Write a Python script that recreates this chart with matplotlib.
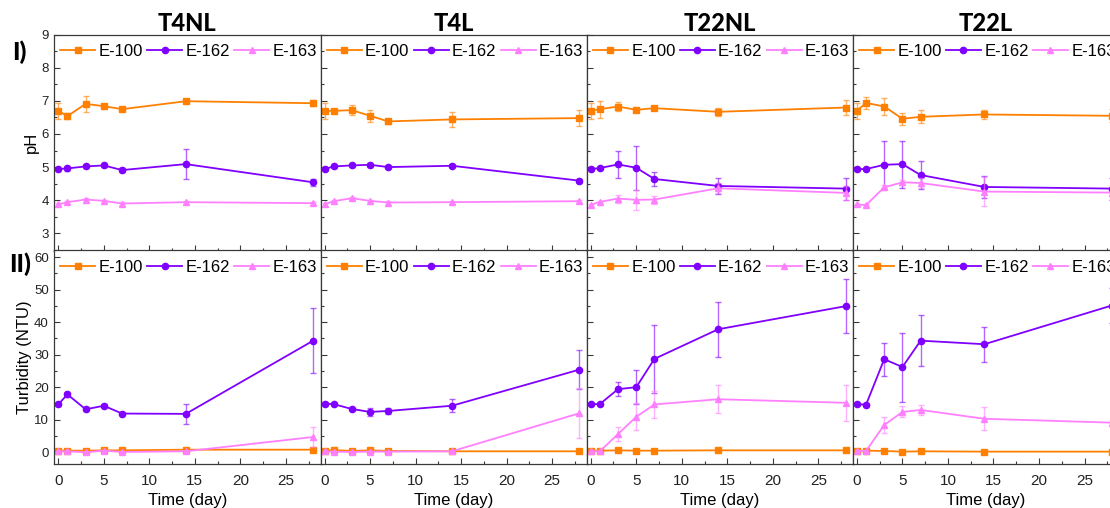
import matplotlib
matplotlib.use("Agg")
import matplotlib.pyplot as plt
from matplotlib.colors import to_rgba
from matplotlib.ticker import MultipleLocator

plt.rcParams['font.family'] = ['Liberation Sans', 'DejaVu Sans']

# Sampling days
days = [0, 1, 3, 5, 7, 14, 28]
conditions = ["T4NL", "T4L", "T22NL", "T22L"]
dyes = ["E-100", "E-162", "E-163"]

# ---- pH (mean, sd) per condition and dye ----
ph_t4nl_e100 = [6.70, 6.54, 6.91, 6.84, 6.75, 6.99, 6.93]
ph_t4nl_e100_sd = [0.24, 0.08, 0.24, 0.04, 0.04, 0.06, 0.09]
ph_t4nl_e162 = [4.94, 4.96, 5.02, 5.05, 4.91, 5.09, 4.54]
ph_t4nl_e162_sd = [0.04, 0.07, 0.05, 0.05, 0.05, 0.46, 0.11]
ph_t4nl_e163 = [3.87, 3.94, 4.02, 3.98, 3.90, 3.94, 3.91]
ph_t4nl_e163_sd = [0.04, 0.04, 0.05, 0.04, 0.04, 0.04, 0.04]

ph_t4l_e100 = [6.70, 6.70, 6.72, 6.55, 6.38, 6.44, 6.48]
ph_t4l_e100_sd = [0.25, 0.06, 0.15, 0.18, 0.08, 0.23, 0.25]
ph_t4l_e162 = [4.94, 5.02, 5.05, 5.07, 5.00, 5.04, 4.59]
ph_t4l_e162_sd = [0.04, 0.04, 0.05, 0.06, 0.04, 0.05, 0.06]
ph_t4l_e163 = [3.87, 3.97, 4.06, 3.98, 3.93, 3.94, 3.97]
ph_t4l_e163_sd = [0.04, 0.04, 0.05, 0.04, 0.04, 0.04, 0.04]

ph_t22nl_e100 = [6.70, 6.75, 6.83, 6.73, 6.78, 6.67, 6.80]
ph_t22nl_e100_sd = [0.25, 0.26, 0.15, 0.05, 0.05, 0.12, 0.22]
ph_t22nl_e162 = [4.94, 4.97, 5.08, 4.98, 4.64, 4.43, 4.35]
ph_t22nl_e162_sd = [0.04, 0.04, 0.40, 0.66, 0.20, 0.25, 0.33]
ph_t22nl_e163 = [3.86, 3.95, 4.05, 4.01, 4.02, 4.36, 4.22]
ph_t22nl_e163_sd = [0.03, 0.04, 0.12, 0.31, 0.12, 0.15, 0.21]

ph_t22l_e100 = [6.70, 6.94, 6.83, 6.46, 6.52, 6.59, 6.55]
ph_t22l_e100_sd = [0.25, 0.17, 0.26, 0.18, 0.20, 0.15, 0.20]
ph_t22l_e162 = [4.94, 4.94, 5.07, 5.09, 4.76, 4.40, 4.35]
ph_t22l_e162_sd = [0.03, 0.03, 0.71, 0.71, 0.42, 0.33, 0.33]
ph_t22l_e163 = [3.87, 3.85, 4.39, 4.54, 4.52, 4.26, 4.23]
ph_t22l_e163_sd = [0.03, 0.03, 0.08, 0.08, 0.14, 0.43, 0.22]

# ---- Turbidity in NTU (mean, sd) ----
tu_t4nl_e100 = [0.5, 0.5, 0.5, 0.6, 0.6, 0.8, 0.8]
tu_t4nl_e100_sd = [0.3, 0.3, 0.3, 0.3, 0.3, 0.3, 0.3]
tu_t4nl_e162 = [14.7, 17.8, 13.2, 14.3, 11.9, 11.8, 34.3]
tu_t4nl_e162_sd = [0.4, 0.7, 0.4, 0.4, 0.4, 3.1, 10.0]
tu_t4nl_e163 = [0.3, 0.3, 0.0, 0.5, 0.1, 0.3, 4.7]
tu_t4nl_e163_sd = [0.2, 0.2, 0.2, 0.2, 0.2, 0.2, 3.0]

tu_t4l_e100 = [0.4, 0.7, 0.4, 0.6, 0.4, 0.3, 0.3]
tu_t4l_e100_sd = [0.2, 0.2, 0.2, 0.2, 0.2, 0.2, 0.2]
tu_t4l_e162 = [14.9, 14.8, 13.3, 12.4, 12.7, 14.3, 25.4]
tu_t4l_e162_sd = [0.4, 0.4, 0.4, 1.2, 1.0, 2.0, 6.1]
tu_t4l_e163 = [0.3, 0.2, 0.1, 0.2, 0.2, 0.3, 12.0]
tu_t4l_e163_sd = [0.2, 0.2, 0.2, 0.2, 0.2, 0.2, 7.6]

tu_t22nl_e100 = [0.4, 0.5, 0.6, 0.5, 0.5, 0.6, 0.6]
tu_t22nl_e100_sd = [0.2, 0.2, 0.2, 0.2, 0.2, 0.2, 0.2]
tu_t22nl_e162 = [14.8, 14.8, 19.4, 20.0, 28.7, 37.8, 44.9]
tu_t22nl_e162_sd = [0.4, 0.4, 2.2, 5.2, 10.4, 8.4, 8.4]
tu_t22nl_e163 = [0.3, 0.3, 5.6, 10.9, 14.7, 16.3, 15.2]
tu_t22nl_e163_sd = [0.2, 0.2, 2.1, 4.1, 4.1, 4.3, 5.5]

tu_t22l_e100 = [0.4, 0.5, 0.4, 0.2, 0.3, 0.2, 0.2]
tu_t22l_e100_sd = [0.2, 0.2, 0.2, 0.2, 0.2, 0.2, 0.2]
tu_t22l_e162 = [14.8, 14.6, 28.6, 26.2, 34.3, 33.2, 45.1]
tu_t22l_e162_sd = [0.4, 0.4, 5.1, 10.6, 7.9, 5.4, 5.3]
tu_t22l_e163 = [0.4, 0.4, 8.4, 12.4, 13.0, 10.3, 9.1]
tu_t22l_e163_sd = [0.2, 0.2, 2.5, 1.7, 1.4, 3.5, 0.8]

ph_data = [
    [(ph_t4nl_e100, ph_t4nl_e100_sd), (ph_t4nl_e162, ph_t4nl_e162_sd), (ph_t4nl_e163, ph_t4nl_e163_sd)],
    [(ph_t4l_e100, ph_t4l_e100_sd), (ph_t4l_e162, ph_t4l_e162_sd), (ph_t4l_e163, ph_t4l_e163_sd)],
    [(ph_t22nl_e100, ph_t22nl_e100_sd), (ph_t22nl_e162, ph_t22nl_e162_sd), (ph_t22nl_e163, ph_t22nl_e163_sd)],
    [(ph_t22l_e100, ph_t22l_e100_sd), (ph_t22l_e162, ph_t22l_e162_sd), (ph_t22l_e163, ph_t22l_e163_sd)],
]
tu_data = [
    [(tu_t4nl_e100, tu_t4nl_e100_sd), (tu_t4nl_e162, tu_t4nl_e162_sd), (tu_t4nl_e163, tu_t4nl_e163_sd)],
    [(tu_t4l_e100, tu_t4l_e100_sd), (tu_t4l_e162, tu_t4l_e162_sd), (tu_t4l_e163, tu_t4l_e163_sd)],
    [(tu_t22nl_e100, tu_t22nl_e100_sd), (tu_t22nl_e162, tu_t22nl_e162_sd), (tu_t22nl_e163, tu_t22nl_e163_sd)],
    [(tu_t22l_e100, tu_t22l_e100_sd), (tu_t22l_e162, tu_t22l_e162_sd), (tu_t22l_e163, tu_t22l_e163_sd)],
]

colors = ["#FF8000", "#8000FF", "#FF80FF"]
markers = ["s", "o", "^"]
spine_col = "#3a3a3a"
bold_family = ["Lato", "DejaVu Sans"]

W, H = 1110, 508
fig = plt.figure(figsize=(W / 100, H / 100), dpi=100)

left_px = 54.3
panel_w = 266.2
top_px, mid_px, bot_px = 34.7, 250.5, 464.0


def make_axes(col, y0_px, y1_px):
    x0 = (left_px + col * panel_w) / W
    return fig.add_axes([x0, 1 - y1_px / H, panel_w / W, (y1_px - y0_px) / H])


def draw(ax, series):
    for (vals, sd), c, m, lab in zip(series, colors, markers, dyes):
        ax.errorbar(days, vals, yerr=sd, fmt="none", ecolor=to_rgba(c, 0.6),
                    elinewidth=1.0, capsize=2.2, capthick=1.0)
        ax.plot(days, vals, color=c, marker=m, markersize=4.5, lw=1.3, label=lab)


def style(ax, col, bottom):
    ax.set_xlim(-0.44, 28.8)
    ax.xaxis.set_major_locator(MultipleLocator(5))
    ax.xaxis.set_minor_locator(MultipleLocator(2.5))
    ax.tick_params(which="both", direction="in", top=False, right=False,
                   colors=spine_col)
    ax.tick_params(which="major", length=4, width=0.8)
    ax.tick_params(which="minor", length=2.5, width=0.8)
    ax.tick_params(axis="y", labelsize=9.5, pad=4, labelcolor="#222222")
    ax.tick_params(axis="x", labelsize=11, pad=7, labelcolor="#222222")
    if not bottom:
        ax.tick_params(axis="x", labelbottom=False)
    if col != 0:
        ax.tick_params(axis="y", labelleft=False)
    for s in ax.spines.values():
        s.set_color(spine_col)
        s.set_linewidth(0.9)
    ax.legend(loc="upper center", bbox_to_anchor=(0.505, 0.995), ncol=3,
              frameon=False, fontsize=12, handlelength=2.1, handletextpad=0.2,
              columnspacing=0.25, borderaxespad=0.3, borderpad=0.2)


for col in range(4):
    ax_ph = make_axes(col, top_px, mid_px)
    draw(ax_ph, ph_data[col])
    ax_ph.set_ylim(2.48, 9)
    ax_ph.yaxis.set_major_locator(MultipleLocator(1))
    ax_ph.yaxis.set_minor_locator(MultipleLocator(0.5))
    style(ax_ph, col, bottom=False)
    ax_ph.set_title(conditions[col], family=bold_family,
                    fontweight="black", fontsize=17, pad=2)

    ax_tu = make_axes(col, mid_px, bot_px)
    draw(ax_tu, tu_data[col])
    ax_tu.set_ylim(-3.6, 62)
    ax_tu.yaxis.set_major_locator(MultipleLocator(10))
    ax_tu.yaxis.set_minor_locator(MultipleLocator(5))
    style(ax_tu, col, bottom=True)
    ax_tu.set_xlabel("Time (day)", fontsize=12, labelpad=4)

    if col == 0:
        ax_ph.set_ylabel("pH", fontsize=12, labelpad=2)
        ax_tu.set_ylabel("Turbidity (NTU)", fontsize=12, labelpad=1)

fig.text(19 / W, 1 - 52 / H, "I)", family=bold_family,
         fontweight="black", fontsize=18, ha="center", va="center")
fig.text(20 / W, 1 - 264 / H, "II)", family=bold_family,
         fontweight="black", fontsize=18, ha="center", va="center")

fig.savefig("out.png", dpi=100)
